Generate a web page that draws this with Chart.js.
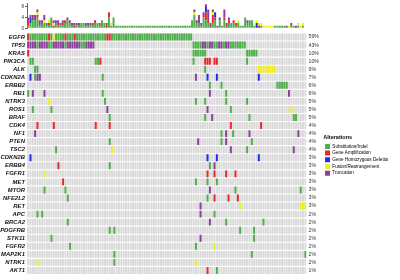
<!DOCTYPE html>
<html>
<head>
<meta charset="utf-8">
<script src="https://cdn.jsdelivr.net/npm/chart.js@4.4.0/dist/chart.umd.min.js"></script>
<style>
  html, body { margin: 0; padding: 0; background: #fff; overflow: hidden; }
  #wrap { position: relative; width: 400px; height: 280px; }
  canvas { position: absolute; left: 0; top: 0; }
</style>
</head>
<body>
<div id="wrap">
  <canvas id="matrix" width="400" height="280"></canvas>
  <canvas id="bars" width="400" height="32"></canvas>
</div>
<script>
// samples in the oncoprint, left to right
var N = 120;

var genes = ['EGFR', 'TP53', 'KRAS', 'PIK3CA', 'ALK', 'CDKN2A', 'ERBB2', 'RB1', 'NTRK3', 'ROS1',
  'BRAF', 'CDK4', 'NF1', 'PTEN', 'TSC2', 'CDKN2B', 'ERBB4', 'FGFR1', 'MET', 'MTOR',
  'NFE2L2', 'RET', 'APC', 'BRCA2', 'PDGFRB', 'STK11', 'FGFR2', 'MAP2K1', 'NTRK1', 'AKT1'];

var pctLabels = ['59%', '43%', '10%', '10%', '9%', '7%', '6%', '6%', '5%', '5%',
  '5%', '4%', '4%', '4%', '4%', '3%', '3%', '3%', '3%', '3%',
  '3%', '3%', '2%', '2%', '2%', '2%', '2%', '2%', '2%', '1%'];

// alteration types
var typeCodes = ['S', 'A', 'D', 'F', 'T'];
var typeNames = ['Substitution/Indel', 'Gene Amplification', 'Gene Homozygous Deletion', 'Fusion/Rearrangement', 'Truncation'];
var typeColors = ['#4fae4a', '#e8262b', '#1f2de0', '#f2ee1a', '#8a3f9a'];

// altered samples per gene: "from-to" + type code
var rows = [
  '0A 1-8S 9A 10S 11F 12-15S 16A 17-19S 20A 21-33S 34-35A 36-70S',
  '0-3T 4S 5-8T 9-10S 11-15T 16S 17-22T 23-24S 25-28T 71-74S 75-76T 77S 78-79T 80-81S 82-83T 84S 85-86T 87-93S',
  '0A 71-76S 94-98S',
  '1-2S 29-30S 31A 71S 76-78A 80-81A 94S',
  '3-4S 76S 99-106F',
  '1D 3S 4-5T 32S 72T 77D 81D 99D',
  '78S 83S 107-111S',
  '0S 2T 7T 32S 78T 85S 112T',
  '9F 33S 72S 76S 85S 94S',
  '2S 10S 34T 77T 87S 113F',
  '35S 76S 79T 95S 114-115S',
  '4A 11A 29A 35A 87A 100A',
  '3T 83S 85T 88S 95T 116T',
  '35S 73T 83S 85T 96S',
  '12S 36F 87T 94S 114T',
  '1D 77D 81D 99D',
  '13A 35S 78S 80T',
  '7F 77A 80A 85A 89A',
  '15A 72S 77S 81S',
  '7S 16S 78T 89S 117S',
  '17S 77S 80A 86A 90A',
  '74T 91F 117-119F',
  '4S 6S 74T 80S',
  '17S 78T 85S 101S',
  '35S 37S 91S 97S',
  '10S 74T 97S',
  '18S 72S 80F',
  '37S 96S 119S',
  '4F 37S 72F',
  '77A 81S'
];

var FONT = "'Liberation Sans', Arial, sans-serif";

function parseRow(str) {
  var cells = new Array(N).fill(null);
  str.split(' ').forEach(function (tok) {
    var code = tok.slice(-1);
    var range = tok.slice(0, -1).split('-');
    var a = +range[0], b = range.length > 1 ? +range[1] : a;
    for (var i = a; i <= b; i++) cells[i] = code;
  });
  return cells;
}

var cellData = rows.map(parseRow);
var labels = [];
for (var i = 0; i < N; i++) labels.push('S' + (i + 1));

// ---- matrix ----
var GAP = 0.07;
var matrixSets = [];
genes.forEach(function (g, r) {
  var cells = cellData[r];
  matrixSets.push({
    label: g,
    data: cells.map(function (c) { return c ? [r + GAP, r + 1 - GAP] : null; }),
    backgroundColor: cells.map(function (c) { return c ? typeColors[typeCodes.indexOf(c)] : 'rgba(0,0,0,0)'; }),
    order: 0
  });
  matrixSets.push({
    label: g + ' bg',
    data: cells.map(function () { return [r + GAP, r + 1 - GAP]; }),
    backgroundColor: '#dadada',
    order: 1
  });
});

var matrix = new Chart(document.getElementById('matrix'), {
  type: 'bar',
  data: { labels: labels, datasets: matrixSets },
  options: {
    responsive: false,
    animation: false,
    devicePixelRatio: 1,
    layout: { padding: { top: 33, bottom: 3, left: 0, right: 12 } },
    datasets: { bar: { categoryPercentage: 1, barPercentage: 0.86, borderWidth: 0 } },
    plugins: {
      tooltip: { enabled: false },
      legend: {
        position: 'right',
        align: 'center',
        title: {
          display: true,
          text: 'Alterations',
          position: 'start',
          color: '#000',
          padding: { top: 2, bottom: 1 },
          font: { family: FONT, size: 5.5, weight: 'bold' }
        },
        labels: {
          boxWidth: 5,
          boxHeight: 5,
          padding: 1.7,
          color: '#111',
          font: { family: FONT, size: 4.6 },
          generateLabels: function () {
            return typeNames.map(function (t, k) {
              return { text: t, fillStyle: typeColors[k], strokeStyle: typeColors[k], lineWidth: 0, hidden: false, datasetIndex: k };
            });
          }
        },
        onClick: function () {}
      }
    },
    scales: {
      x: { type: 'category', stacked: true, display: false },
      y: {
        type: 'linear', min: 0, max: genes.length, reverse: true, stacked: false, position: 'left',
        grid: { display: false, drawTicks: false }, border: { display: false },
        afterFit: function (s) { s.width = 27; },
        afterBuildTicks: function (s) { s.ticks = genes.map(function (g, k) { return { value: k + 0.5 }; }); },
        ticks: {
          autoSkip: false, padding: 2, color: '#111',
          font: { family: FONT, size: 5.9, style: 'italic', weight: 'bold' },
          callback: function (v, k) { return genes[k]; }
        }
      },
      y2: {
        type: 'linear', min: 0, max: genes.length, reverse: true, position: 'right',
        grid: { display: false, drawTicks: false }, border: { display: false },
        afterFit: function (s) { s.width = 16.8; },
        afterBuildTicks: function (s) { s.ticks = pctLabels.map(function (p, k) { return { value: k + 0.5 }; }); },
        ticks: {
          autoSkip: false, padding: 2, color: '#333',
          font: { family: FONT, size: 5.2 },
          callback: function (v, k) { return pctLabels[k]; }
        }
      }
    }
  }
});

// ---- alteration counts per sample (top bars) ----
var countSets = typeCodes.map(function (code, k) {
  var counts = new Array(N).fill(0);
  cellData.forEach(function (cells) {
    cells.forEach(function (c, j) { if (c === code) counts[j]++; });
  });
  return { label: typeNames[k], data: counts, backgroundColor: typeColors[k] };
});

var bars = new Chart(document.getElementById('bars'), {
  type: 'bar',
  data: { labels: labels, datasets: countSets },
  options: {
    responsive: false,
    animation: false,
    devicePixelRatio: 1,
    layout: { padding: { top: 1, bottom: 0, left: 0, right: 96 } },
    datasets: { bar: { categoryPercentage: 1, barPercentage: 0.86, borderWidth: 0 } },
    plugins: { legend: { display: false }, tooltip: { enabled: false } },
    scales: {
      x: { type: 'category', stacked: true, display: false },
      y: {
        stacked: true, min: 0, max: 9.2,
        afterFit: function (s) { s.width = 27; },
        afterBuildTicks: function (s) { s.ticks = [0, 2, 4, 6, 8].map(function (v) { return { value: v }; }); },
        grid: { drawOnChartArea: false, tickLength: 2, color: '#666' },
        border: { display: true, color: '#666' },
        ticks: { padding: 1, color: '#333', font: { family: FONT, size: 4.5 } }
      }
    }
  }
});
</script>
</body>
</html>
